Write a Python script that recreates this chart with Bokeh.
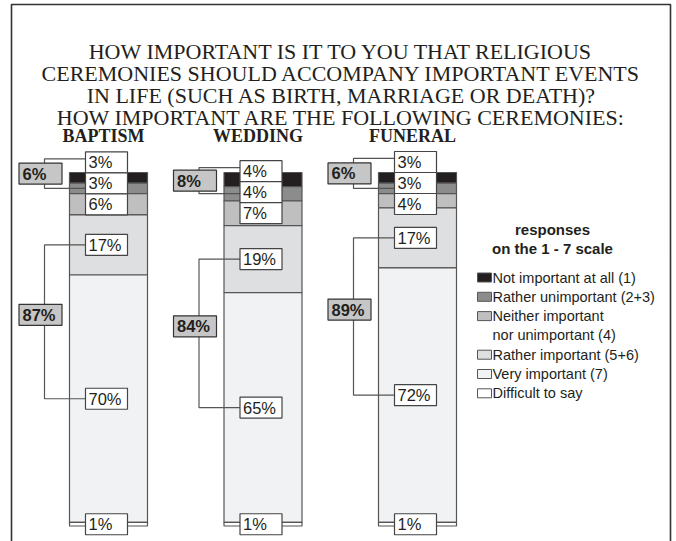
from bokeh.plotting import figure
from bokeh.models import Range1d
from bokeh.core.properties import value
from bokeh.embed import file_html
from bokeh.resources import INLINE

# ---------------- data ----------------
title_lines = [
    "HOW IMPORTANT IS IT TO YOU THAT RELIGIOUS",
    "CEREMONIES SHOULD ACCOMPANY IMPORTANT EVENTS",
    "IN LIFE (SUCH AS BIRTH, MARRIAGE OR DEATH)?",
    "HOW IMPORTANT ARE THE FOLLOWING CEREMONIES:",
]
ceremonies = ["BAPTISM", "WEDDING", "FUNERAL"]
responses = [
    "Not important at all (1)",
    "Rather unimportant (2+3)",
    "Neither important\nnor unimportant (4)",
    "Rather important (5+6)",
    "Very important (7)",
    "Difficult to say",
]
legend_title = ["responses", "on the 1 - 7 scale"]
not_important = [3, 4, 3]
rather_unimportant = [3, 4, 3]
neither = [6, 7, 4]
rather_important = [17, 19, 17]
very_important = [70, 65, 72]
difficult = [1, 1, 1]

# ---------------- styles / layout ----------------
colors = ["#231f20", "#8c8c8c", "#bfbfbf", "#dedfe0", "#f1f2f4", "#ffffff"]
TEXT = "#231f20"
EDGE = "#555555"
SANS = value("Liberation Sans")
SERIF = value("Liberation Serif")

PCT_PX = 3.535      # pixels per percentage point
Y_TOP_PX = 172      # pixel row of bar tops
X_STEP_PX = 154.5   # pixels between bars
X0_PX = 108         # pixel column of first bar centre
W, H = 676, 541


def ux(px):
    return (px - X0_PX) / X_STEP_PX


def uy(px):
    return (px - Y_TOP_PX) / PCT_PX


def dx(px):
    return px / X_STEP_PX


def dy(px):
    return px / PCT_PX


BAR_W = dx(78)
BOX_W, BOX_H = 42, 21

p = figure(width=W, height=H, x_range=Range1d(ux(0), ux(W)),
           y_range=Range1d(uy(H), uy(0)), output_backend="svg",
           toolbar_location=None, min_border=0, x_axis_type=None,
           y_axis_type=None, outline_line_color=None,
           background_fill_color="white", border_fill_color="white")
p.grid.visible = False

# frame
p.line([ux(11), ux(11), ux(670), ux(670)], [uy(560), uy(4), uy(4), uy(560)],
       line_color="#333333", line_width=1.6)

# title
p.text(x=[ux(341)] * 4, y=[uy(51), uy(73), uy(95), uy(117)], text=title_lines,
       text_align="center", text_baseline="middle", text_font=SERIF,
       text_font_size="22px", text_color=TEXT)

series = [not_important, rather_unimportant, neither, rather_important,
          very_important, difficult]

bx, btop, bbot, bfill = [], [], [], []
lx, ly, lt = [], [], []
gx, gy, gt = [], [], []
brx, bry = [], []
for i, name in enumerate(ceremonies):
    cum = 0
    mids = []
    for j, s in enumerate(series):
        v = s[i]
        bx.append(i)
        btop.append(cum)
        bbot.append(cum + v)
        bfill.append(colors[j])
        mids.append(cum + v / 2)
        cum += v
    # label positions (small top labels stacked upwards)
    hh = dy(BOX_H)
    y3 = max(mids[2], 1.5 * hh)
    y2 = y3 - hh
    y1 = y2 - hh
    ys = [y1, y2, y3, mids[3], mids[4], mids[5]]
    cx = i - dx(2)
    for j, s in enumerate(series):
        lx.append(cx)
        ly.append(ys[j])
        lt.append(f"{s[i]}%")
    box_left = cx - dx(BOX_W / 2)
    bar_left = i - BAR_W / 2
    brk_x = bar_left - dx(25)
    # bracket 1: low importance
    t1, b1 = y1 - 1.0, mids[1]
    brx.append([box_left, brk_x, brk_x, box_left])
    bry.append([t1, t1, b1, b1])
    gx.append(bar_left - dx(29))
    gy.append((t1 + b1) / 2)
    gt.append(f"{not_important[i] + rather_unimportant[i]}%")
    # bracket 2: important
    t2, b2 = ys[3], ys[4]
    brx.append([box_left, brk_x, brk_x, box_left])
    bry.append([t2, t2, b2, b2])
    gx.append(bar_left - dx(29))
    gy.append((t2 + b2) / 2 - dy(7))
    gt.append(f"{rather_important[i] + very_important[i]}%")

p.vbar(x=bx, width=BAR_W, top=btop, bottom=bbot, fill_color=bfill,
       line_color=EDGE, line_width=1.2)
p.multi_line(brx, bry, line_color=EDGE, line_width=1.2)

# value label boxes
p.rect(x=lx, y=ly, width=BOX_W, height=BOX_H, width_units="screen",
       height_units="screen", fill_color="white", line_color="#444444",
       line_width=1.2)
p.text(x=lx, y=ly, text=lt, text_align="left", text_baseline="middle",
       x_offset=-18, text_font=SANS, text_font_size="16.5px", text_color=TEXT)

# bracket total boxes
p.rect(x=gx, y=gy, width=43, height=BOX_H, width_units="screen",
       height_units="screen", fill_color="#c6c6c6", line_color="#333333",
       line_width=1.2)
p.text(x=gx, y=gy, text=gt, text_align="left", text_baseline="middle",
       x_offset=-18, text_font=SANS, text_font_style="bold",
       text_font_size="16.5px", text_color=TEXT)

# column headers
p.text(x=list(range(len(ceremonies))), y=[uy(135)] * 3, text=ceremonies,
       text_align="center", text_baseline="middle", x_offset=-5,
       text_font=SERIF, text_font_style="bold", text_font_size="18px",
       text_color=TEXT)

# legend
p.text(x=[ux(552)] * 2, y=[uy(229), uy(248)], text=legend_title,
       text_align="center", text_baseline="middle", text_font=SANS,
       text_font_style="bold", text_font_size="15px", text_color=TEXT)
sw_y, tx_y, tx_t = [], [], []
row = 0
for j, lab in enumerate(responses):
    parts = lab.split("\n")
    sw_y.append(uy(277 + 19.3 * row))
    for part in parts:
        tx_y.append(uy(277 + 19.3 * row))
        tx_t.append(part)
        row += 1
p.rect(x=[ux(484)] * len(responses), y=sw_y, width=14, height=9,
       width_units="screen", height_units="screen", fill_color=colors,
       line_color=EDGE, line_width=1)
p.text(x=[ux(492)] * len(tx_t), y=tx_y, text=tx_t, text_align="left",
       text_baseline="middle", text_font=SANS, text_font_size="14.5px",
       text_color=TEXT)

open("out.html", "w").write(file_html(p, INLINE))
